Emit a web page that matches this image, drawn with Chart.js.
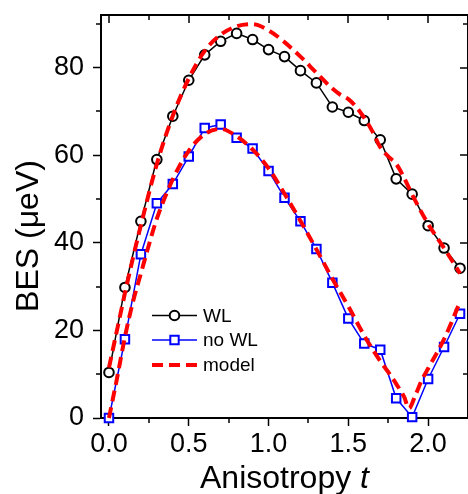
<!DOCTYPE html>
<html>
<head>
<meta charset="utf-8">
<script src="https://cdn.jsdelivr.net/npm/chart.js@4.4.0/dist/chart.umd.min.js"></script>
<style>
  html, body { margin: 0; padding: 0; background: #fff; overflow: hidden; }
</style>
</head>
<body>
<canvas id="bes" width="476" height="494"></canvas>
<script>
// measured points
var tValues = [0, 0.1, 0.2, 0.3, 0.4, 0.5, 0.6, 0.7, 0.8, 0.9, 1.0, 1.1, 1.2, 1.3, 1.4, 1.5, 1.6, 1.7, 1.8, 1.9, 2.0, 2.1, 2.2];
var wlValues = [10.4, 29.8, 44.9, 59.0, 68.9, 77.1, 82.9, 86.0, 87.8, 86.4, 84.1, 82.5, 79.3, 76.5, 71.0, 69.8, 67.9, 63.5, 54.6, 51.1, 43.9, 38.8, 34.2];
var noWlValues = [0, 18.0, 37.4, 49.0, 53.4, 59.7, 66.2, 67.0, 64.0, 61.5, 56.4, 50.3, 44.9, 38.6, 30.9, 22.7, 17.0, 15.6, 4.5, 0.2, 8.9, 16.2, 23.8];

// model curves (red dashed)
var modelWlT = [0, 0.05, 0.1, 0.15, 0.2, 0.3, 0.4, 0.5, 0.6, 0.7, 0.8, 0.9, 1.0, 1.1, 1.2, 1.3, 1.4, 1.45, 1.5, 1.55, 1.6, 1.65, 1.7, 1.75, 1.8, 1.85, 1.9, 2.0, 2.1, 2.2];
var modelWl = [11.5, 20, 28.5, 36.5, 44, 58, 69, 77.5, 83.8, 87.5, 89.4, 89.9, 88.5, 85.8, 82.5, 78.8, 75.2, 73.8, 72.8, 71, 68.5, 65.5, 61.8, 59.7, 58, 54.8, 51, 44.3, 38.8, 33];
var modelNoWlT = [0, 0.05, 0.1, 0.15, 0.2, 0.25, 0.3, 0.4, 0.5, 0.6, 0.7, 0.8, 0.9, 1.0, 1.1, 1.2, 1.3, 1.4, 1.5, 1.6, 1.7, 1.75, 1.8, 1.85, 1.88, 1.92, 1.96, 2.0, 2.1, 2.2];
var modelNoWl = [0, 9, 18.5, 26.5, 33, 39.5, 45.5, 54.5, 61, 64.8, 66, 64.3, 61.3, 57, 51.2, 45, 38.5, 31.8, 25.5, 18.8, 13, 10.5, 7.8, 4.8, 2.2, 5.2, 8.6, 11.3, 18, 26.5];

// axes
var xTicks = [0, 0.5, 1.0, 1.5, 2.0];
var xMinor = [0.25, 0.75, 1.25, 1.75];
var yTicks = [0, 20, 40, 60, 80];
var yMinor = [10, 30, 50, 70, 90];

var seriesLabels = ['WL', 'no WL', 'model'];

var FONT = 'Arial, "Liberation Sans", sans-serif';
Chart.defaults.font.family = FONT;
Chart.defaults.color = '#000';

function pts(xs, ys) {
    return xs.map(function (x, i) { return { x: x, y: ys[i] }; });
}

// top/right frame + minor and mirrored ticks
var framePlugin = {
    id: 'frame',
    afterDraw: function (chart) {
        var ctx = chart.ctx, a = chart.chartArea, x = chart.scales.x, y = chart.scales.y;
        ctx.save();
        ctx.strokeStyle = '#000';
        ctx.lineWidth = 2;
        ctx.beginPath();
        ctx.moveTo(a.left - 1, a.top);
        ctx.lineTo(a.right, a.top);
        ctx.lineTo(a.right, a.bottom + 1);
        ctx.stroke();

        ctx.lineWidth = 1.5;
        ctx.beginPath();
        xTicks.forEach(function (v) {
            var px = Math.round(x.getPixelForValue(v));
            ctx.moveTo(px, a.top); ctx.lineTo(px, a.top + 8);
        });
        xMinor.forEach(function (v) {
            var px = Math.round(x.getPixelForValue(v));
            ctx.moveTo(px, a.top); ctx.lineTo(px, a.top + 5);
            ctx.moveTo(px, a.bottom); ctx.lineTo(px, a.bottom + 5);
        });
        yTicks.forEach(function (v) {
            var py = Math.round(y.getPixelForValue(v));
            ctx.moveTo(a.right, py); ctx.lineTo(a.right - 8, py);
        });
        yMinor.forEach(function (v) {
            var py = Math.round(y.getPixelForValue(v));
            ctx.moveTo(a.left, py); ctx.lineTo(a.left - 5, py);
            ctx.moveTo(a.right, py); ctx.lineTo(a.right - 5, py);
        });
        ctx.stroke();
        ctx.restore();
    }
};

// axis titles (x title has italic t)
var titlePlugin = {
    id: 'titles',
    afterDraw: function (chart) {
        var ctx = chart.ctx, a = chart.chartArea;
        ctx.save();
        ctx.fillStyle = '#000';
        ctx.textBaseline = 'alphabetic';

        ctx.font = '32px ' + FONT;
        var s1 = 'Anisotropy ';
        var w1 = ctx.measureText(s1).width;
        ctx.font = 'italic 32px ' + FONT;
        var w2 = ctx.measureText('t').width;
        var x0 = (a.left + a.right) / 2 - (w1 + w2) / 2;
        ctx.textAlign = 'left';
        ctx.font = '32px ' + FONT;
        ctx.fillText(s1, x0, 488);
        ctx.font = 'italic 32px ' + FONT;
        ctx.fillText('t', x0 + w1, 488);

        ctx.translate(37.5, 236);
        ctx.rotate(-Math.PI / 2);
        ctx.textAlign = 'center';
        ctx.font = '32px ' + FONT;
        ctx.fillText('BES (\u03BCeV)', 0, 0);
        ctx.restore();
    }
};

// legend in the lower-left of the plot
var legendPlugin = {
    id: 'boxLegend',
    afterDraw: function (chart) {
        var ctx = chart.ctx;
        var rows = [315.5, 340, 365];
        ctx.save();
        ctx.font = '19px ' + FONT;
        ctx.textBaseline = 'middle';
        ctx.textAlign = 'left';
        rows.forEach(function (ry, i) {
            ctx.beginPath();
            if (i === 2) {
                ctx.strokeStyle = '#ff0000';
                ctx.lineWidth = 4;
                ctx.setLineDash([11, 6]);
            } else {
                ctx.strokeStyle = i === 0 ? '#000' : '#0000ff';
                ctx.lineWidth = 1.5;
                ctx.setLineDash([]);
            }
            ctx.moveTo(152, ry); ctx.lineTo(197, ry);
            ctx.stroke();
            ctx.setLineDash([]);
            ctx.lineWidth = 2;
            ctx.fillStyle = '#fff';
            if (i === 0) {
                ctx.beginPath();
                ctx.arc(174.5, ry, 4.8, 0, Math.PI * 2);
                ctx.fill(); ctx.stroke();
            } else if (i === 1) {
                ctx.beginPath();
                ctx.rect(170.3, ry - 4.2, 8.4, 8.4);
                ctx.fill(); ctx.stroke();
            }
            ctx.fillStyle = '#000';
            ctx.fillText(seriesLabels[i], 203, ry + 1);
        });
        ctx.restore();
    }
};

new Chart(document.getElementById('bes').getContext('2d'), {
    type: 'scatter',
    data: {
        datasets: [
            {
                label: seriesLabels[2],
                data: pts(modelWlT, modelWl),
                showLine: true,
                borderColor: '#ff0000',
                borderWidth: 4,
                borderDash: [11, 6],
                pointRadius: 0,
                cubicInterpolationMode: 'monotone',
                clip: false,
                order: 0
            },
            {
                label: seriesLabels[2],
                data: pts(modelNoWlT, modelNoWl),
                showLine: true,
                borderColor: '#ff0000',
                borderWidth: 4,
                borderDash: [11, 6],
                pointRadius: 0,
                cubicInterpolationMode: 'monotone',
                clip: false,
                order: 0
            },
            {
                label: seriesLabels[0],
                data: pts(tValues, wlValues),
                showLine: true,
                borderColor: '#000',
                borderWidth: 1.5,
                pointStyle: 'circle',
                pointRadius: 4.8,
                pointBorderWidth: 2,
                pointBorderColor: '#000',
                pointBackgroundColor: '#fff',
                clip: false,
                order: 2
            },
            {
                label: seriesLabels[1],
                data: pts(tValues, noWlValues),
                showLine: true,
                borderColor: '#0000ff',
                borderWidth: 1.5,
                pointStyle: 'rect',
                pointRadius: 6,
                pointBorderWidth: 2,
                pointBorderColor: '#0000ff',
                pointBackgroundColor: '#fff',
                clip: false,
                order: 1
            }
        ]
    },
    options: {
        responsive: false,
        animation: false,
        devicePixelRatio: 1,
        layout: { padding: { top: 15, right: 2, left: 0, bottom: 0 } },
        plugins: {
            legend: { display: false },
            tooltip: { enabled: false }
        },
        scales: {
            x: {
                type: 'linear',
                position: 'bottom',
                min: -0.05,
                max: 2.25,
                afterBuildTicks: function (s) { s.ticks = xTicks.map(function (v) { return { value: v }; }); },
                afterFit: function (s) {
                    s.height = 76;
                    s.paddingLeft = 0; s.paddingRight = 0;
                },
                ticks: {
                    font: { size: 27 },
                    color: '#000',
                    padding: 2,
                    maxRotation: 0,
                    callback: function (v) { return Number(v).toFixed(1); }
                },
                grid: { drawOnChartArea: false, tickLength: 8, tickWidth: 1.5, tickColor: '#000' },
                border: { color: '#000', width: 2 }
            },
            y: {
                type: 'linear',
                min: 0,
                max: 92,
                afterBuildTicks: function (s) { s.ticks = yTicks.map(function (v) { return { value: v }; }); },
                afterFit: function (s) {
                    s.width = 101;
                    s.paddingTop = 0; s.paddingBottom = 0;
                },
                ticks: {
                    font: { size: 27 },
                    color: '#000',
                    padding: 9
                },
                grid: { drawOnChartArea: false, tickLength: 8, tickWidth: 1.5, tickColor: '#000' },
                border: { color: '#000', width: 2 }
            }
        }
    },
    plugins: [framePlugin, titlePlugin, legendPlugin]
});
</script>
</body>
</html>
